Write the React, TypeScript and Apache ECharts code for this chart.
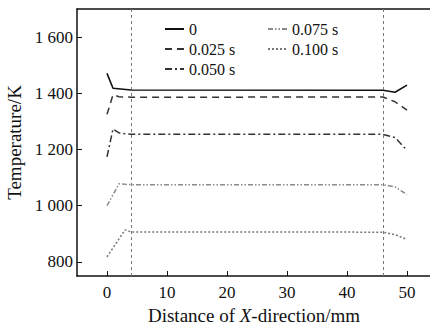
import React, { useEffect, useRef } from "react";
import * as echarts from "echarts";

const FONT = "Liberation Serif";

const seriesNames = ["0", "0.025 s", "0.050 s", "0.075 s", "0.100 s"];

const x0 = [0, 1, 4, 46, 48, 50];
const y0 = [1471, 1418, 1412, 1411, 1404, 1429];

const x025 = [0, 1, 2, 4, 46, 48, 50];
const y025 = [1325, 1395, 1388, 1386, 1387, 1370, 1340];

const x050 = [0, 1, 2, 4, 46, 48, 50];
const y050 = [1174, 1273, 1259, 1254, 1254, 1243, 1197];

const x075 = [0, 2, 4, 46, 48, 50];
const y075 = [1000, 1078, 1075, 1075, 1067, 1040];

const x100 = [0, 3, 4, 46, 48, 50];
const y100 = [818, 914, 907, 906, 897, 880];

const xTicks = [0, 10, 20, 30, 40, 50];
const yTicks = [800, 1000, 1200, 1400, 1600];
const boundaryLines = [4, 46];

const zip = (xs: number[], ys: number[]) => xs.map((x, i) => [x, ys[i]]);

const fmtY = (v: number) =>
  v >= 1000 ? `${Math.floor(v / 1000)} ${String(v % 1000).padStart(3, "0")}` : String(v);

export default function App() {
  const ref = useRef<HTMLDivElement>(null);
  useEffect(() => {
    if (!ref.current) return;
    const chart = echarts.init(ref.current, undefined, { renderer: "svg" });
    const styles: any[] = [
      { color: "#111", type: "solid", width: 1.6 },
      { color: "#333", type: [7, 5], width: 1.5 },
      { color: "#333", type: [7, 3, 2, 3], width: 1.5 },
      { color: "#8a8a8a", type: [5, 2, 1.5, 2, 1.5, 2], width: 1.5 },
      { color: "#777", type: [2, 2], width: 1.5 },
    ];
    const datas = [zip(x0, y0), zip(x025, y025), zip(x050, y050), zip(x075, y075), zip(x100, y100)];
    const series: any[] = datas.map((d, i) => ({
      name: seriesNames[i],
      type: "line",
      data: d,
      symbol: "none",
      showSymbol: false,
      color: styles[i].color,
      lineStyle: styles[i],
    }));
    series[0].markLine = {
      silent: true,
      symbol: "none",
      label: { show: false },
      lineStyle: { color: "#777", type: [3, 3], width: 1 },
      data: boundaryLines.map((v) => ({ xAxis: v })),
    };
    const legendCommon = {
      orient: "vertical",
      top: 16,
      itemWidth: 19,
      itemHeight: 14,
      itemGap: 4,
      itemStyle: { opacity: 0 },
      textStyle: { fontFamily: FONT, fontSize: 16, color: "#111" },
    };
    const axisFont = { fontFamily: FONT, color: "#111" };
    chart.setOption({
      animation: false,
      backgroundColor: "#fff",
      grid: {
        left: 77,
        top: 9,
        width: 354,
        height: 267,
        outerBoundsMode: "none",
        containLabel: false,
      },
      legend: [
        { ...legendCommon, left: 159, data: seriesNames.slice(0, 3) },
        { ...legendCommon, left: 262, data: seriesNames.slice(3) },
      ],
      xAxis: [
        {
          type: "value",
          min: -5,
          max: 54,
          splitLine: { show: false },
          axisLine: { show: true, onZero: false, lineStyle: { color: "#111", width: 1.5 } },
          axisTick: { show: true, inside: true, length: 5, customValues: xTicks, lineStyle: { color: "#111" } },
          axisLabel: { ...axisFont, customValues: xTicks, fontSize: 17, margin: 8 },
          name: "Distance of {i|X}-direction/mm",
          nameLocation: "middle",
          nameGap: 27,
          nameTextStyle: {
            ...axisFont,
            fontSize: 19,
            rich: { i: { ...axisFont, fontSize: 19, fontStyle: "italic" } },
          },
        },
        {
          type: "value",
          position: "top",
          min: -5,
          max: 54,
          splitLine: { show: false },
          axisLine: { show: true, onZero: false, lineStyle: { color: "#111", width: 1.5 } },
          axisTick: { show: false },
          axisLabel: { show: false },
        },
      ],
      yAxis: {
        type: "value",
        min: 750,
        max: 1700,
        splitLine: { show: false },
        axisLine: { show: true, onZero: false, lineStyle: { color: "#111", width: 1.5 } },
        axisTick: { show: true, inside: true, length: 5, customValues: yTicks, lineStyle: { color: "#111" } },
        axisLabel: {
          ...axisFont,
          customValues: yTicks,
          formatter: fmtY,
          fontSize: 17,
          margin: 4,
        },
        name: "Temperature/K",
        nameLocation: "middle",
        nameGap: 50,
        nameTextStyle: { ...axisFont, fontSize: 19 },
      },
      series,
    });
    return () => chart.dispose();
  }, []);
  return <div ref={ref} style={{ width: 430, height: 325, position: "absolute", left: 0, top: 0 }} />;
}
